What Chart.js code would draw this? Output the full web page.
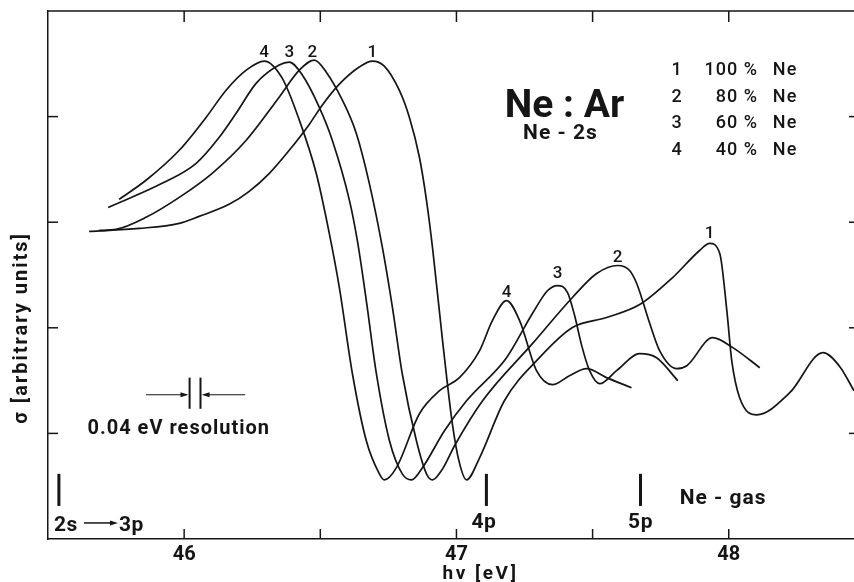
<!DOCTYPE html>
<html>
<head>
<meta charset="utf-8">
<script src="https://cdn.jsdelivr.net/npm/chart.js@4.4.1/dist/chart.umd.min.js"></script>
<style>
  html, body { margin: 0; padding: 0; background: #fff; }
  canvas { display: block; }
</style>
</head>
<body>
<canvas id="chart" width="854" height="582"></canvas>
<script>
// photon energy hv [eV] and cross section sigma [arb. units]
const hv1 = [45.651, 45.835, 45.982, 46.055, 46.165, 46.239, 46.313, 46.386, 46.460, 46.507, 46.570, 46.643, 46.691, 46.735, 46.790, 46.827, 46.864, 46.890, 46.912, 46.949, 46.985, 47.011, 47.037, 47.085, 47.176, 47.305, 47.426, 47.551, 47.673, 47.794, 47.893, 47.930, 47.967, 47.993, 48.011, 48.040, 48.103, 48.224, 48.346, 48.408, 48.460];
const sig1 = [2.913, 2.941, 2.989, 3.055, 3.169, 3.292, 3.463, 3.681, 3.928, 4.108, 4.307, 4.469, 4.526, 4.478, 4.250, 3.994, 3.615, 3.207, 2.761, 1.879, 1.091, 0.721, 0.560, 0.769, 1.309, 1.717, 2.002, 2.097, 2.220, 2.476, 2.732, 2.799, 2.704, 2.163, 1.689, 1.338, 1.176, 1.385, 1.765, 1.632, 1.404];

const hv2 = [45.688, 45.750, 45.860, 45.982, 46.103, 46.228, 46.349, 46.423, 46.478, 46.522, 46.581, 46.632, 46.680, 46.728, 46.765, 46.801, 46.853, 46.890, 46.912, 46.949, 46.993, 47.096, 47.279, 47.426, 47.515, 47.592, 47.636, 47.662, 47.710, 47.746, 47.809, 47.846, 47.941, 48.015, 48.114];
const sig2 = [2.922, 2.932, 3.046, 3.235, 3.463, 3.776, 4.184, 4.440, 4.535, 4.421, 4.156, 3.843, 3.368, 2.761, 2.192, 1.565, 0.930, 0.617, 0.560, 0.664, 0.883, 1.309, 1.850, 2.287, 2.514, 2.590, 2.543, 2.419, 2.040, 1.784, 1.613, 1.641, 1.907, 1.812, 1.622];

const hv3 = [45.721, 45.919, 46.044, 46.129, 46.191, 46.265, 46.349, 46.386, 46.434, 46.496, 46.544, 46.607, 46.636, 46.669, 46.706, 46.754, 46.801, 46.835, 46.875, 46.956, 47.037, 47.184, 47.279, 47.335, 47.371, 47.408, 47.434, 47.460, 47.489, 47.526, 47.588, 47.673, 47.735, 47.813];
const sig3 = [3.140, 3.368, 3.558, 3.805, 4.032, 4.317, 4.488, 4.516, 4.393, 4.089, 3.776, 3.207, 2.827, 2.258, 1.565, 0.930, 0.617, 0.560, 0.674, 1.025, 1.309, 1.717, 2.135, 2.353, 2.400, 2.334, 2.116, 1.831, 1.594, 1.471, 1.594, 1.755, 1.717, 1.499];

const hv4 = [45.761, 45.860, 45.982, 46.081, 46.154, 46.228, 46.294, 46.360, 46.423, 46.485, 46.533, 46.570, 46.618, 46.669, 46.717, 46.735, 46.779, 46.864, 46.938, 47.011, 47.085, 47.132, 47.184, 47.232, 47.294, 47.353, 47.415, 47.478, 47.551, 47.643];
const sig4 = [3.216, 3.397, 3.681, 3.994, 4.250, 4.440, 4.526, 4.364, 3.966, 3.463, 2.894, 2.381, 1.565, 0.930, 0.617, 0.560, 0.674, 1.186, 1.404, 1.528, 1.784, 2.068, 2.258, 2.068, 1.594, 1.461, 1.546, 1.613, 1.528, 1.433];

const curveNumbers = ['1', '2', '3', '4'];
const neonShares = ['100 %', '80 %', '60 %', '40 %'];

const xTicks = [46, 46.5, 47, 47.5, 48];
const xTickLabels = ['46', '', '47', '', '48'];
const yTicks = [1, 2, 3, 4];

// Ne levels (2s -> np) marked under the curves
const levelNames = ['2s', '4p', '5p'];
const levelEnergies = [45.54, 47.11, 47.676];

const ink = '#151515';
const FONT = "Roboto, 'DejaVu Sans', sans-serif";

const curves = [[hv1, sig1], [hv2, sig2], [hv3, sig3], [hv4, sig4]];

function write(ctx, str, px, py, size, weight, align, spacing) {
  ctx.font = `${weight} ${size}px ${FONT}`;
  ctx.letterSpacing = (spacing || 0) + 'px';
  ctx.textAlign = align;
  ctx.textBaseline = 'alphabetic';
  ctx.fillText(str, px, py);
}

function seg(ctx, x0, y0, x1, y1) {
  ctx.beginPath();
  ctx.moveTo(x0, y0);
  ctx.lineTo(x1, y1);
  ctx.stroke();
}

function arrow(ctx, x0, y, x1) {
  const dir = Math.sign(x1 - x0);
  seg(ctx, x0, y, x1 - dir * 6, y);
  ctx.beginPath();
  ctx.moveTo(x1, y);
  ctx.lineTo(x1 - dir * 8, y - 2.5);
  ctx.lineTo(x1 - dir * 8, y + 2.5);
  ctx.closePath();
  ctx.fill();
}

const frame = {
  id: 'frame',
  afterDraw(chart) {
    const { ctx, chartArea: a, scales: { x, y } } = chart;
    const X = v => x.getPixelForValue(v);
    const Y = v => y.getPixelForValue(v);
    ctx.save();
    ctx.strokeStyle = ink;
    ctx.fillStyle = ink;

    // top border and inward ticks
    ctx.lineWidth = 1.5;
    seg(ctx, a.left, a.top, a.right, a.top);
    xTicks.forEach(v => {
      seg(ctx, X(v), a.bottom, X(v), a.bottom - 10);
      seg(ctx, X(v), a.top, X(v), a.top + 11);
    });
    yTicks.forEach(v => {
      seg(ctx, a.left, Y(v), a.left + 10, Y(v));
      seg(ctx, a.right, Y(v), a.right - 5, Y(v));
    });

    // axis titles
    ctx.save();
    ctx.translate(a.left - 26, Y(2.0));
    ctx.rotate(-Math.PI / 2);
    ctx.font = `bold 20px ${FONT}`;
    ctx.letterSpacing = '2px';
    ctx.textAlign = 'center';
    ctx.textBaseline = 'middle';
    ctx.fillText('σ [arbitrary units]', 0, 0);
    ctx.restore();
    write(ctx, 'hν [eV]', X(46.949), a.bottom + 40, 19, 'bold', 'left', 2.5);

    // title and legend
    write(ctx, 'Ne : Ar', X(47.397), Y(3.994), 39, 'bold', 'center', 0);
    write(ctx, 'Ne - 2s', X(47.382), Y(3.786), 21, 'bold', 'center', 1);
    const rows = [4.39, 4.14, 3.89, 3.64];
    curveNumbers.forEach((n, i) => {
      write(ctx, n, X(47.809), Y(rows[i]), 18, '500', 'center', 0);
      write(ctx, neonShares[i], X(48.107), Y(rows[i]), 18, '500', 'right', 1);
      write(ctx, 'Ne', X(48.162), Y(rows[i]), 18, '500', 'left', 1);
    });

    // curve numbers at the main and the upper peaks
    const topX = [46.691, 46.471, 46.386, 46.294];
    const lowX = [47.930, 47.592, 47.371, 47.184];
    const lowY = [2.846, 2.619, 2.467, 2.287];
    curveNumbers.forEach((n, i) => {
      write(ctx, n, X(topX[i]), Y(4.564), 17, '500', 'center', 0);
      write(ctx, n, X(lowX[i]), Y(lowY[i]), 17, '500', 'center', 0);
    });

    // resolution marker
    ctx.lineWidth = 1.2;
    arrow(ctx, X(45.86), Y(1.366), X(46.016));
    arrow(ctx, X(46.224), Y(1.366), X(46.064));
    ctx.lineWidth = 2;
    [46.02, 46.06].forEach(v => seg(ctx, X(v), Y(1.528), X(v), Y(1.233)));
    write(ctx, '0.04 eV resolution', X(45.98), Y(0.996), 20, 'bold', 'center', 1);

    // Ne gas levels
    ctx.lineWidth = 3;
    levelEnergies.forEach(v => seg(ctx, X(v), Y(0.617), X(v), Y(0.313)));
    ctx.lineWidth = 1.5;
    write(ctx, levelNames[0], X(45.522), Y(0.076), 21, 'bold', 'left', 0.5);
    arrow(ctx, X(45.632), Y(0.152), X(45.757));
    write(ctx, '3p', X(45.761), Y(0.076), 21, 'bold', 'left', 0.5);
    write(ctx, levelNames[1], X(47.101), Y(0.104), 21, 'bold', 'center', 0.5);
    write(ctx, levelNames[2], X(47.676), Y(0.104), 21, 'bold', 'center', 0.5);
    write(ctx, 'Ne - gas', X(47.82), Y(0.332), 21, 'bold', 'left', 1);
    ctx.restore();
  }
};

new Chart(document.getElementById('chart'), {
  type: 'line',
  data: {
    datasets: curves.map(([hv, sig], i) => ({
      label: neonShares[i] + ' Ne',
      data: hv.map((v, k) => ({ x: v, y: sig[k] })),
      borderColor: ink,
      borderWidth: 1.7,
      pointRadius: 0,
      fill: false,
      cubicInterpolationMode: 'monotone'
    }))
  },
  options: {
    responsive: false,
    animation: false,
    layout: { padding: { left: 48, top: 11, right: 0, bottom: 11 } },
    plugins: { legend: { display: false }, tooltip: { enabled: false } },
    scales: {
      x: {
        type: 'linear',
        min: 45.5,
        max: 48.46,
        afterBuildTicks: axis => { axis.ticks = xTicks.map(v => ({ value: v })); },
        ticks: {
          autoSkip: false,
          maxRotation: 0,
          padding: 4,
          color: ink,
          font: { family: FONT, weight: 'bold', size: 20 },
          callback: v => xTickLabels[xTicks.indexOf(v)] ?? ''
        },
        grid: { display: false, drawTicks: false },
        border: { display: true, color: ink, width: 1.5 }
      },
      y: {
        min: 0,
        max: 5,
        afterBuildTicks: axis => { axis.ticks = yTicks.map(v => ({ value: v })); },
        ticks: { display: false },
        grid: { display: false, drawTicks: false },
        border: { display: true, color: ink, width: 1.5 }
      }
    }
  },
  plugins: [frame]
});
</script>
</body>
</html>
